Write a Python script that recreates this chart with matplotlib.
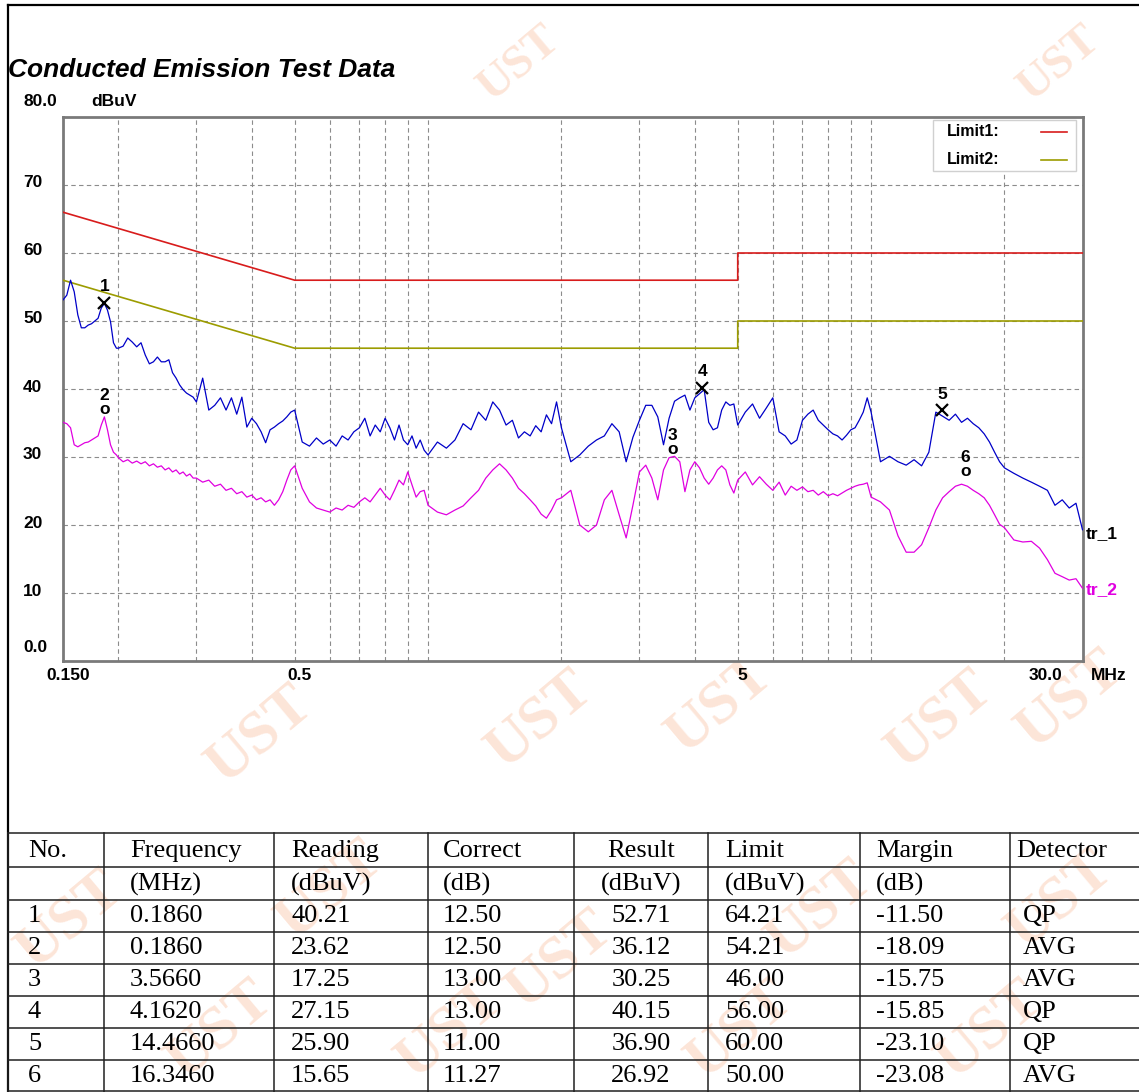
import matplotlib
matplotlib.use("Agg")
import matplotlib.pyplot as plt
from matplotlib.lines import Line2D
from matplotlib.patches import Rectangle
from matplotlib.transforms import blended_transform_factory

W, H = 1139, 1092

# scan frequencies (MHz)
freq = [0.150, 0.153, 0.156, 0.159, 0.162, 0.165, 0.168, 0.171, 0.174, 0.177,
        0.180, 0.183, 0.186, 0.189, 0.192, 0.195, 0.198,
        0.200, 0.205, 0.210, 0.215, 0.220, 0.225, 0.230, 0.235, 0.240, 0.245,
        0.250, 0.255, 0.260, 0.265, 0.270, 0.275, 0.280, 0.285, 0.290, 0.295,
        0.30, 0.31, 0.32, 0.33, 0.34, 0.35, 0.36, 0.37, 0.38, 0.39,
        0.40, 0.41, 0.42, 0.43, 0.44, 0.45, 0.46, 0.47, 0.48, 0.49,
        0.50, 0.52, 0.54, 0.56, 0.58, 0.60, 0.62, 0.64, 0.66, 0.68,
        0.70, 0.72, 0.74, 0.76, 0.78, 0.80, 0.82, 0.84, 0.86, 0.88,
        0.90, 0.92, 0.94, 0.96, 0.98,
        1.00, 1.05, 1.10, 1.15, 1.20, 1.25, 1.30, 1.35, 1.40, 1.45,
        1.50, 1.55, 1.60, 1.65, 1.70, 1.75, 1.80, 1.85, 1.90, 1.95,
        2.0, 2.1, 2.2, 2.3, 2.4, 2.5, 2.6, 2.7, 2.8, 2.9,
        3.0, 3.1, 3.2, 3.3, 3.4, 3.5, 3.6, 3.7, 3.8, 3.9,
        4.0, 4.1, 4.2, 4.3, 4.4, 4.5, 4.6, 4.7, 4.8, 4.9,
        5.0, 5.2, 5.4, 5.6, 5.8, 6.0, 6.2, 6.4, 6.6, 6.8,
        7.0, 7.2, 7.4, 7.6, 7.8, 8.0, 8.2, 8.4, 8.6, 8.8,
        9.0, 9.2, 9.4, 9.6, 9.8,
        10.0, 10.5, 11.0, 11.5, 12.0, 12.5, 13.0, 13.5, 14.0, 14.5,
        15.0, 15.5, 16.0, 16.5, 17.0, 17.5, 18.0, 18.5, 19.0, 19.5,
        20, 21, 22, 23, 24, 25, 26, 27, 28, 29, 30]

# tr_1 (peak scan), dBuV
tr1 = [53.1, 53.8, 56.0, 54.3, 50.9, 49.0, 49.0, 49.4, 49.6, 50.0,
       50.4, 51.9, 52.6, 51.6, 49.9, 46.8, 46.0,
       46.0, 46.3, 47.5, 46.9, 46.2, 46.8, 45.0, 43.7, 44.0, 44.7,
       44.0, 44.0, 44.3, 42.4, 41.6, 40.6, 39.9, 39.4, 39.1, 38.8,
       38.1, 41.6, 36.9, 37.6, 38.7, 36.9, 38.7, 36.3, 38.8, 34.4,
       35.7, 34.9, 33.7, 32.1, 34.0, 34.4, 34.9, 35.3, 35.9, 36.6,
       36.9, 32.2, 31.6, 32.8, 31.9, 32.5, 31.6, 33.1, 32.5, 33.7,
       34.3, 35.7, 33.1, 34.7, 33.7, 35.7, 34.3, 32.5, 34.7, 32.5,
       31.8, 33.1, 31.3, 32.5, 31.0,
       30.3, 32.2, 31.3, 32.5, 34.9, 34.0, 36.6, 35.4, 38.1, 36.9,
       34.7, 35.4, 32.8, 33.7, 33.1, 34.6, 33.7, 36.2, 34.9, 38.1,
       34.3, 29.3, 30.3, 31.6, 32.5, 33.1, 34.9, 33.7, 29.3, 32.9,
       35.4, 37.6, 37.6, 35.9, 31.8, 35.7, 38.2, 38.7, 39.1, 36.9,
       38.7, 39.3, 39.9, 35.1, 34.0, 34.3, 36.9, 38.1, 37.6, 37.8,
       34.7, 36.6, 37.8, 35.7, 37.2, 38.7, 33.7, 33.1, 31.9, 32.5,
       35.4, 36.3, 36.9, 35.4, 34.7, 34.0, 33.4, 33.1, 32.5, 33.2,
       34.0, 34.3, 35.4, 36.6, 38.7,
       36.6, 29.3, 30.1, 29.3, 28.8, 29.6, 28.7, 30.7, 36.6, 36.0,
       35.4, 36.3, 35.1, 35.7, 34.9, 34.3, 33.4, 32.2, 30.7, 29.3,
       28.4, 27.6, 26.9, 26.3, 25.7, 25.1, 22.9, 23.7, 22.5, 23.2, 19.3]

# tr_2 (average scan), dBuV
tr2 = [35.1, 34.9, 34.3, 31.8, 31.5, 31.8, 32.1, 32.2, 32.5, 32.8,
       33.1, 34.7, 35.9, 34.0, 31.8, 30.7, 30.3,
       29.9, 29.3, 29.6, 29.1, 29.4, 29.0, 29.3, 28.7, 29.0, 28.5,
       28.7, 28.1, 28.4, 27.8, 28.1, 27.5, 27.8, 27.2, 27.5, 26.9,
       26.9, 26.3, 26.6, 25.7, 26.0, 25.1, 25.4, 24.6, 24.9, 24.1,
       24.4, 23.7, 24.0, 23.4, 23.7, 22.9, 23.7, 24.9, 26.6, 28.1,
       28.7, 25.4, 23.4, 22.5, 22.2, 21.9, 22.5, 22.2, 22.9, 22.6,
       23.4, 24.0, 23.4, 24.4, 25.4, 24.4, 23.7, 25.1, 26.6, 25.9,
       27.8, 25.9, 24.1, 24.9, 25.1,
       22.9, 21.9, 21.5, 22.2, 22.8, 24.0, 25.1, 26.9, 28.1, 29.0,
       28.1, 26.9, 25.4, 24.6, 23.7, 22.8, 21.6, 21.0, 22.2, 23.7,
       24.0, 25.1, 20.0, 19.0, 20.0, 23.7, 25.1, 21.5, 18.1, 22.9,
       27.8, 28.8, 26.9, 23.7, 28.1, 29.9, 30.1, 29.3, 24.9, 28.1,
       29.3, 28.4, 26.9, 26.0, 26.9, 28.1, 28.7, 28.1, 25.9, 24.7,
       26.6, 27.8, 25.9, 27.1, 26.0, 25.1, 26.3, 24.4, 25.7, 25.1,
       25.6, 24.9, 25.1, 24.4, 24.9, 24.3, 24.6, 24.3, 24.7, 25.1,
       25.4, 25.7, 25.9, 26.0, 26.2,
       24.1, 23.4, 22.2, 18.4, 16.0, 16.0, 17.1, 19.6, 22.2, 24.0,
       24.9, 25.7, 26.0, 25.7, 25.1, 24.6, 24.0, 22.9, 21.5, 20.1,
       19.6, 17.8, 17.5, 17.6, 16.6, 14.9, 12.9, 12.4, 11.9, 12.1, 10.7]

# limit lines
limit_freq = [0.15, 0.5, 5, 5, 30]
limit1_level = [66, 56, 56, 60, 60]
limit2_level = [56, 46, 46, 50, 50]

# result table
no = [1, 2, 3, 4, 5, 6]
mk_freq = [0.1860, 0.1860, 3.5660, 4.1620, 14.4660, 16.3460]
reading = [40.21, 23.62, 17.25, 27.15, 25.90, 15.65]
correct = [12.50, 12.50, 13.00, 13.00, 11.00, 11.27]
result = [52.71, 36.12, 30.25, 40.15, 36.90, 26.92]
limit = [64.21, 54.21, 46.00, 56.00, 60.00, 50.00]
margin = [-11.50, -18.09, -15.75, -15.85, -23.10, -23.08]
detector = ["QP", "AVG", "AVG", "QP", "QP", "AVG"]

header1 = ["No.", "Frequency", "Reading", "Correct", "Result", "Limit", "Margin", "Detector"]
header2 = ["", "(MHz)", "(dBuV)", "(dB)", "(dBuV)", "(dBuV)", "(dB)", ""]

ytick_vals = [0, 10, 20, 30, 40, 50, 60, 70, 80]
ytick_labels = ["0.0", "10", "20", "30", "40", "50", "60", "70", "80.0"]
xtick_vals = [0.15, 0.5, 5, 30]
xtick_labels = ["0.150", "0.5", "5", "30.0"]
xgrid_vals = [0.2, 0.3, 0.4, 0.5, 0.6, 0.7, 0.8, 0.9, 1, 2, 3, 4, 5, 6, 7, 8, 9, 10, 20]

BLUE = "#0000c8"
MAGENTA = "#e000e0"
RED = "#d81c1c"
OLIVE = "#9c9c00"
GRID = "#8c8c8c"
SANS = "Liberation Sans"
SERIF = "Liberation Serif"
LBL = 12.5


def fx(x):
    return x / W


def fy(y):
    return 1 - y / H


fig = plt.figure(figsize=(W / 100, H / 100), dpi=100)

# watermark
wm = [(520, 64, 34), (1060, 64, 34),
      (260, 735, 44), (540, 720, 44), (720, 705, 44), (940, 720, 44), (1070, 700, 44),
      (70, 920, 44), (330, 890, 44), (560, 960, 44), (820, 910, 44), (1060, 900, 44),
      (220, 1030, 44), (450, 1030, 44), (740, 1030, 44), (990, 1030, 44)]
for x, y, s in wm:
    fig.text(fx(x), fy(y), "UST", rotation=40, fontsize=s, color="#f9b48f",
             alpha=0.35, fontweight="bold", family=SERIF, ha="center", va="center",
             zorder=0.2)

# plot area
ax = fig.add_axes([fx(63), fy(661), (1082.5 - 63) / W, (661 - 117) / H], zorder=1)
ax.set_facecolor("white")
ax.set_xscale("log")
ax.set_xlim(0.15, 30)
ax.set_ylim(0, 80)
ax.set_xticks([])
ax.set_yticks([])
ax.minorticks_off()
for s in ax.spines.values():
    s.set_color("#7a7a7a")
    s.set_linewidth(2.0)

for v in ytick_vals[1:-1]:
    ax.axhline(v, color=GRID, lw=0.8, ls=(0, (4, 3)), zorder=1)
for v in xgrid_vals:
    ax.axvline(v, color=GRID, lw=0.8, ls=(0, (4, 3)), zorder=1)

ax.plot(limit_freq, limit1_level, color=RED, lw=1.2, zorder=3)
ax.plot(limit_freq, limit2_level, color=OLIVE, lw=1.2, zorder=3)
ax.plot(freq, tr2, color=MAGENTA, lw=0.9, zorder=4)
ax.plot(freq, tr1, color=BLUE, lw=0.9, zorder=5)

# markers
for n, f, r, d in zip(no, mk_freq, result, detector):
    if d == "QP":
        ax.plot(f, r, marker="x", ms=8.5, mew=1.6, color="black", zorder=6)
        ax.annotate(str(n), (f, r), xytext=(0, 16), textcoords="offset pixels",
                    ha="center", va="center", fontsize=LBL, fontweight="bold",
                    family=SANS, zorder=6)
    else:
        ax.annotate("o", (f, r), xytext=(0, 6), textcoords="offset pixels",
                    ha="center", va="center", fontsize=LBL, fontweight="bold",
                    family=SANS, zorder=6)
        ax.annotate(str(n), (f, r), xytext=(0, 20), textcoords="offset pixels",
                    ha="center", va="center", fontsize=LBL, fontweight="bold",
                    family=SANS, zorder=6)

# axis labels
ty = blended_transform_factory(fig.transFigure, ax.transData)
for v, lbl in zip(ytick_vals, ytick_labels):
    dy = 15 if v == 80 else (14 if v == 0 else 2)
    ax.annotate(lbl, (fx(23), v), xycoords=ty, xytext=(0, dy), textcoords="offset pixels",
                ha="left", va="center", fontsize=LBL, fontweight="bold", family=SANS,
                annotation_clip=False)
tx = blended_transform_factory(ax.transData, fig.transFigure)
for v, lbl in zip(xtick_vals, xtick_labels):
    dx = -37 if v == 30 else 5
    ax.annotate(lbl, (v, fy(676)), xycoords=tx, xytext=(dx, 0), textcoords="offset pixels",
                ha="center", va="center", fontsize=LBL, fontweight="bold", family=SANS,
                annotation_clip=False)
fig.text(fx(1091), fy(675), "MHz", ha="left", va="center", fontsize=LBL,
         fontweight="bold", family=SANS)
fig.text(fx(91), fy(102), "dBuV", ha="left", va="center", fontsize=LBL,
         fontweight="bold", family=SANS)
fig.text(fx(1086), fy(534), "tr_1", ha="left", va="center", fontsize=LBL,
         fontweight="bold", family=SANS)
fig.text(fx(1086), fy(590), "tr_2", ha="left", va="center", fontsize=LBL,
         fontweight="bold", family=SANS, color=MAGENTA)

# legend
fig.add_artist(Rectangle((fx(933), fy(171)), (1076 - 933) / W, (171 - 120) / H,
                         transform=fig.transFigure, facecolor="white",
                         edgecolor="#d0d0d0", lw=1, zorder=2))
for y, lbl, c in [(131, "Limit1:", RED), (159, "Limit2:", OLIVE)]:
    fig.text(fx(947), fy(y), lbl, ha="left", va="center", fontsize=11.5,
             fontweight="bold", family=SANS, zorder=3)
    fig.add_artist(Line2D([fx(1041), fx(1067)], [fy(y + 1), fy(y + 1)],
                          transform=fig.transFigure, color=c, lw=1.2, zorder=3))

# title
fig.text(fx(8), fy(70), "Conducted Emission Test Data", ha="left", va="center",
         fontsize=19, fontweight="bold", fontstyle="italic", family=SANS)

# outer frame
fig.add_artist(Line2D([fx(8), fx(1139)], [fy(5), fy(5)], transform=fig.transFigure,
                      color="black", lw=1.6))
fig.add_artist(Line2D([fx(8), fx(8)], [fy(5), fy(1092)], transform=fig.transFigure,
                      color="black", lw=1.6))

# table
row_lines = [833, 867, 900, 932, 964, 996, 1028, 1060, 1091]
col_lines = [8, 104, 274, 428, 574, 708, 860, 1010]
for y in row_lines:
    fig.add_artist(Line2D([fx(8), fx(1139)], [fy(y), fy(y)], transform=fig.transFigure,
                          color="#202020", lw=1.1, zorder=2))
for x in col_lines:
    fig.add_artist(Line2D([fx(x), fx(x)], [fy(833), fy(1092)], transform=fig.transFigure,
                          color="#202020", lw=1.1, zorder=2))

row_y = [851, 884, 916, 948, 980, 1012, 1044, 1076]
col_x = [28, 130, 291, 443, 641, 725, 876, 1016]
rows = [header1, header2]
for i in range(len(no)):
    rows.append([str(no[i]), f"{mk_freq[i]:.4f}", f"{reading[i]:.2f}", f"{correct[i]:.2f}",
                 f"{result[i]:.2f}", f"{limit[i]:.2f}", f"{margin[i]:.2f}", detector[i]])
for r, (y, cells) in enumerate(zip(row_y, rows)):
    for c, (x, txt) in enumerate(zip(col_x, cells)):
        if c == 7 and r >= 2:
            x = 1023
        ha = "center" if c == 4 else "left"
        fig.text(fx(x), fy(y), txt, ha=ha, va="center", fontsize=19, family=SERIF,
                 zorder=3)

fig.savefig("out.png", dpi=100)
